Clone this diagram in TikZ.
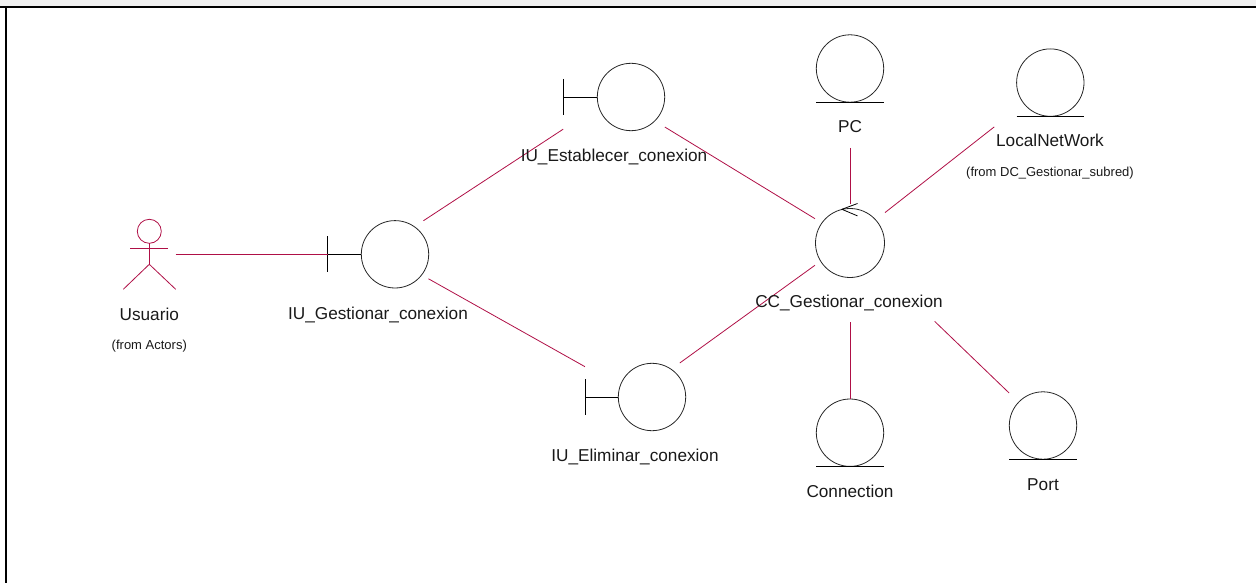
\documentclass[tikz,border=0pt]{standalone}
\usepackage{fontspec}
\setmainfont{Liberation Sans}
\definecolor{assocred}{RGB}{175,15,70}
\definecolor{topband}{RGB}{240,240,240}
\begin{document}
\begin{tikzpicture}[x=1pt,y=-1pt,line width=0.8pt]
    \tikzstyle{hitbox}=[rectangle,inner sep=0pt,outer sep=0pt]
    \tikzstyle{icon}=[circle,draw=black!85,minimum size=67.4pt,inner sep=0pt,outer sep=0pt]
    \tikzstyle{assoc}=[draw=assocred]
    \tikzstyle{title}=[anchor=base,inner sep=0pt,font=\fontsize{17.2}{20}\selectfont,text=black!90]
    \tikzstyle{origin}=[title,font=\fontsize{13}{15}\selectfont]

    \useasboundingbox (0,0) rectangle (1256,583);
    \fill[topband] (0,0) rectangle (1256,6);
    \draw[line width=2.2pt] (0,6.8) -- (1256,6.8);
    \draw[line width=2.2pt] (5.8,6.8) -- (5.8,583);

    \node[hitbox,minimum width=52.7pt,minimum height=70pt] (usuario) at (149.3,254.3) {};
    \node[hitbox,minimum width=101pt,minimum height=59.6pt] (gestionar) at (378,250.5) {};
    \node[hitbox,minimum width=101.7pt,minimum height=68pt] (establecer) at (614,96) {};
    \node[hitbox,minimum width=101pt,minimum height=64pt] (eliminar) at (635.5,395) {};
    \node[hitbox,minimum width=70pt,minimum height=72pt] (control) at (850,240) {};
    \node[hitbox,minimum width=68pt,minimum height=113pt] (pc) at (850,91.5) {};
    \node[hitbox,minimum width=112pt,minimum height=100pt] (localnet) at (1050.3,83) {};
    \node[hitbox,minimum width=68pt,minimum height=67pt] (connection) at (850,432.7) {};
    \node[hitbox,minimum width=67.7pt,minimum height=67pt] (port) at (1043,425.5) {};

    \node[icon] (gestionarIcon) at (395,254.3) {};
    \node[icon] (establecerIcon) at (631,97) {};
    \node[icon] (eliminarIcon) at (652,397) {};
    \node[icon,minimum size=69pt] (controlIcon) at (850,243) {};
    \node[icon] (pcIcon) at (850,68.5) {};
    \node[icon] (localnetIcon) at (1050.3,82.6) {};
    \node[icon] (connectionIcon) at (850,432.7) {};
    \node[icon] (portIcon) at (1043,425.5) {};

    \draw (gestionarIcon.west) -- ++(-33.5,0) coordinate (gestionarBar);
    \draw (gestionarBar) ++(0,-18) -- ++(0,36);
    \draw (establecerIcon.west) -- ++(-33.7,0) coordinate (establecerBar);
    \draw (establecerBar) ++(0,-18) -- ++(0,36);
    \draw (eliminarIcon.west) -- ++(-33.3,0) coordinate (eliminarBar);
    \draw (eliminarBar) ++(0,-18) -- ++(0,36);

    \draw[assoc] (usuario) -- (gestionarBar);
    \draw[assoc] (gestionar) -- (establecer);
    \draw[assoc] (gestionar) -- (eliminar);
    \draw[assoc] (establecer) -- (control);
    \draw[assoc] (eliminar) -- (control);
    \draw[assoc] (pc) -- (control);
    \draw[assoc] (localnet) -- (control);
    \draw[assoc,shorten <=46pt] (control) -- (connection);
    \draw[assoc,shorten <=69pt] (control) -- (port);

    \draw (controlIcon.north) ++(7.5,-5) -- ++(-15.6,5.8) -- ++(15.6,6.6);

    \draw (pcIcon.south) ++(-33.7,0) -- ++(67.4,0);
    \draw (localnetIcon.south) ++(-33.7,0) -- ++(67.4,0);
    \draw (connectionIcon.south) ++(-33.7,0) -- ++(67.4,0);
    \draw (portIcon.south) ++(-33.7,0) -- ++(67.4,0);

    \node[circle,draw=assocred,minimum size=24pt,inner sep=0pt,outer sep=0pt] (head) at (149.3,231.3) {};
    \coordinate (hip) at (149.3,264.3);
    \draw[assoc] (head.south) -- (hip);
    \draw[assoc] (130,248.7) -- (168.3,248.7);
    \draw[assoc] (123.3,289.3) -- (hip) -- (175.7,289.3);

    \node[title] (usuarioText) at (149.3,320) {Usuario};
    \node[origin] (usuarioFrom) at (149.3,349) {(from Actors)};
    \node[title] (gestionarText) at (378,319) {IU\_Gestionar\_conexion};
    \node[title] (establecerText) at (614,161) {IU\_Establecer\_conexion};
    \node[title] (eliminarText) at (635,461) {IU\_Eliminar\_conexion};
    \node[title] (controlText) at (849,307) {CC\_Gestionar\_conexion};
    \node[title] (pcText) at (850,133) {PC};
    \node[title] (localnetText) at (1050,147) {LocalNetWork};
    \node[origin] (localnetFrom) at (1050,176) {(from DC\_Gestionar\_subred)};
    \node[title] (connectionText) at (850,497) {Connection};
    \node[title] (portText) at (1043,490) {Port};
\end{tikzpicture}
\end{document}
